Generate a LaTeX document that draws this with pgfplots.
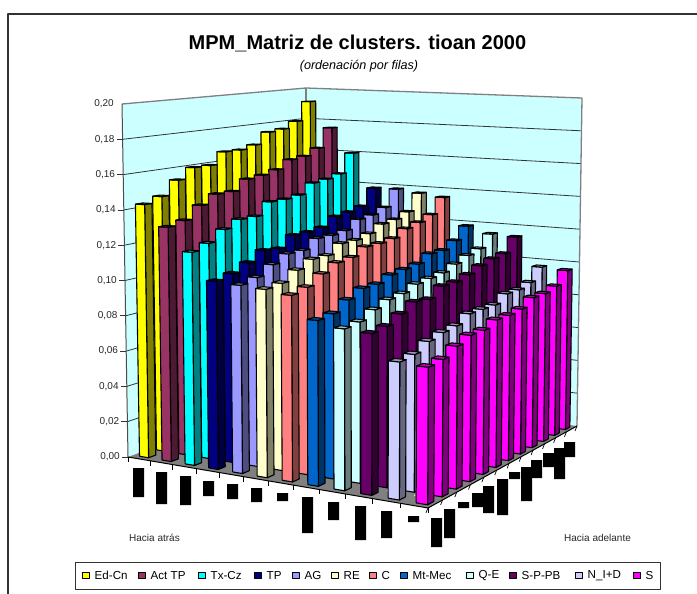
\documentclass[border=0pt]{standalone}
\usepackage{fontspec}
\setmainfont{Liberation Sans}
\usepackage{pgfplots}
\usepackage{pgfplotstable}
\pgfplotsset{compat=1.18}
\definecolor{c0}{HTML}{FFFF00}\definecolor{d0}{HTML}{808000}
\definecolor{c1}{HTML}{993366}\definecolor{d1}{HTML}{4D1A33}
\definecolor{c2}{HTML}{00FFFF}\definecolor{d2}{HTML}{008080}
\definecolor{c3}{HTML}{000080}\definecolor{d3}{HTML}{000040}
\definecolor{c4}{HTML}{9999FF}\definecolor{d4}{HTML}{4D4D80}
\definecolor{c5}{HTML}{FFFFCC}\definecolor{d5}{HTML}{808066}
\definecolor{c6}{HTML}{FF8080}\definecolor{d6}{HTML}{804040}
\definecolor{c7}{HTML}{0066CC}\definecolor{d7}{HTML}{003366}
\definecolor{c8}{HTML}{CCFFFF}\definecolor{d8}{HTML}{668080}
\definecolor{c9}{HTML}{660066}\definecolor{d9}{HTML}{330033}
\definecolor{c10}{HTML}{CCCCFF}\definecolor{d10}{HTML}{666680}
\definecolor{c11}{HTML}{FF00FF}\definecolor{d11}{HTML}{800080}
\pgfplotstableread[header=false]{
0.143 0.146 0.154 0.160 0.160 0.167 0.167 0.169 0.176 0.177 0.181 0.193
0.131 0.133 0.140 0.145 0.145 0.151 0.152 0.154 0.159 0.160 0.164 0.176
0.118 0.121 0.127 0.131 0.131 0.138 0.138 0.139 0.145 0.146 0.148 0.160
0.103 0.105 0.109 0.114 0.113 0.119 0.119 0.120 0.125 0.126 0.128 0.138
0.102 0.104 0.109 0.113 0.113 0.118 0.118 0.119 0.124 0.125 0.128 0.138
0.101 0.102 0.107 0.111 0.111 0.116 0.116 0.118 0.122 0.123 0.126 0.136
0.099 0.101 0.106 0.110 0.111 0.115 0.115 0.116 0.120 0.122 0.125 0.134
0.087 0.088 0.093 0.097 0.097 0.100 0.101 0.102 0.106 0.106 0.110 0.117
0.084 0.085 0.089 0.092 0.093 0.096 0.097 0.098 0.101 0.104 0.106 0.113
0.083 0.084 0.088 0.092 0.091 0.096 0.096 0.098 0.101 0.103 0.104 0.112
0.070 0.071 0.075 0.077 0.078 0.082 0.082 0.082 0.086 0.086 0.088 0.095
0.069 0.070 0.074 0.077 0.077 0.080 0.080 0.081 0.085 0.085 0.087 0.094
}\tbl
% projection of (series a, category b, height z as value) on the picture
\newcommand\prj[3]{%
  \pgfmathsetmacro\pw{1-0.12104*#1+0.17356*#2}%
  \pgfmathsetmacro\fx{(248.2*#1+231.1*#2+128)/\pw}%
  \pgfmathsetmacro\fy{(-10.5*#1+1.86*#2+457)/\pw}%
  \pgfmathsetmacro\hh{#3/0.2*353/\pw}%
  \pgfmathsetmacro\rx{\fx+(\fx-365)/13900*\hh}%
  \pgfmathsetmacro\ry{\fy-\hh}%
  \edef\pout{(\rx,\ry)}%
}
\newcommand\lgd[3]{%
  \node[draw=black,line width=1pt,fill=#1,minimum size=6.5pt,inner sep=0pt,anchor=west] at (axis cs:#2,575.5) {};
  \node[anchor=west,inner sep=0pt,font=\fontsize{11.6}{13}\selectfont] at (axis cs:#2+12.5,575.5) {#3};
}
\begin{document}
\begin{tikzpicture}
\path[use as bounding box] (0,0) rectangle (697pt,594pt);
\begin{axis}[at={(0,0)},anchor=south west,width=697pt,height=594pt,scale only axis,
  xmin=0,xmax=697,ymin=0,ymax=594,y dir=reverse,hide axis,clip=true,line join=round]
% chart frame
\addplot[draw=black!80,line width=1.8pt] coordinates {(8,594)(8,14)(697,14)};
% walls
\addplot[fill=c8,draw=none] coordinates {(128,457)(122,104)(306,88)(306,391)(128,457)};
\addplot[fill=c8,draw=none] coordinates {(306,391)(306,88)(582,98)(577,426)(306,391)};
% grid
\foreach \k in {1,...,9}{
  \pgfmathsetmacro\t{\k/10}
  \pgfmathsetmacro\lx{128-6*\t}\pgfmathsetmacro\ly{457-353*\t}
  \pgfmathsetmacro\my{391-303*\t}
  \pgfmathsetmacro\qx{577+5*\t}\pgfmathsetmacro\qy{426-328*\t}
  \edef\tmp{\noexpand\addplot[draw=black!80,line width=0.8pt] coordinates {(\lx,\ly)(306,\my)(\qx,\qy)};}\tmp
}
\addplot[draw=gray,line width=1.3pt] coordinates {(122,104)(306,88)(582,98)(577,426)};
\addplot[draw=gray,line width=1.3pt] coordinates {(306,88)(306,391)};
\addplot[draw=black!70,line width=1pt] coordinates {(122,104)(128,457)};
% floor
\addplot[fill=gray,draw=none] coordinates {(128,457)(428,508)(577,426)(306,391)(128,457)};
\addplot[draw=black,line width=1pt] coordinates {(128,457)(428,508)(577,426)};
% ticks on the floor edges and on the value axis
\foreach \n in {0,...,12}{
  \pgfmathsetmacro\u{\n/12}
  \prj{\u}{0}{0}\edef\pa{\pout}\pgfmathsetmacro\ya{\ry+5}\edef\pb{(\rx,\ya)}
  \edef\tmp{\noexpand\addplot[draw=black,line width=0.7pt] coordinates {\pa\pb};}\tmp
  \prj{1}{\u}{0}\edef\pa{\pout}\pgfmathsetmacro\ya{\ry+5}\pgfmathsetmacro\xa{\rx-2}\edef\pb{(\xa,\ya)}
  \edef\tmp{\noexpand\addplot[draw=black,line width=0.7pt] coordinates {\pa\pb};}\tmp
}
\foreach \k in {0,...,9}{
  \pgfmathsetmacro\t{\k/10}
  \pgfmathsetmacro\lx{128-6*\t}\pgfmathsetmacro\ly{457-353*\t}\pgfmathsetmacro\lz{\lx-6}
  \edef\tmp{\noexpand\addplot[draw=black!80,line width=0.8pt] coordinates {(\lx,\ly)(\lz,\ly)};}\tmp
}
% white dots of the floor
\foreach \sj in {1,...,11}{\foreach \si in {1,...,11}{
  \pgfmathsetmacro\aa{\si/12}\pgfmathsetmacro\bb{\sj/12}
  \prj{\aa}{\bb}{0}
  \pgfmathsetmacro\xm{\rx-0.7}\pgfmathsetmacro\xp{\rx+0.7}\pgfmathsetmacro\ym{\ry-0.7}\pgfmathsetmacro\yp{\ry+0.7}
  \edef\tmp{\noexpand\addplot[fill=black!12,draw=none] coordinates {(\xm,\ym)(\xp,\ym)(\xp,\yp)(\xm,\yp)(\xm,\ym)};}\tmp
}}
% bars, from the far ones to the near ones
\foreach \si in {0,...,11}{
  \pgfmathsetmacro\azero{(\si*1.012+0.295)/12}\pgfmathsetmacro\aone{(\si*1.012+0.705)/12}
  \foreach \sj in {11,10,...,0}{
    \pgfmathsetmacro\bzero{(\sj+0.29)/12}\pgfmathsetmacro\bone{(\sj+0.71)/12}
    \pgfplotstablegetelem{\si}{[index]\sj}\of\tbl
    \edef\val{\pgfplotsretval}
    \prj{\azero}{\bzero}{0}\edef\Aa{\pout}\prj{\aone}{\bzero}{0}\edef\Ba{\pout}\prj{\aone}{\bone}{0}\edef\Ca{\pout}
    \prj{\azero}{\bzero}{\val}\edef\Az{\pout}\prj{\aone}{\bzero}{\val}\edef\Bz{\pout}
    \prj{\aone}{\bone}{\val}\edef\Cz{\pout}\prj{\azero}{\bone}{\val}\edef\Dz{\pout}
    \edef\tmp{\noexpand\addplot[fill=d\si,draw=black,line width=1.1pt] coordinates {\Ba\Ca\Cz\Bz\Ba};
      \noexpand\addplot[fill=c\si,draw=black,line width=1.1pt] coordinates {\Aa\Ba\Bz\Az\Aa};
      \noexpand\addplot[fill=c\si!75!black,draw=black,line width=1.1pt] coordinates {\Az\Bz\Cz\Dz\Az};}\tmp
  }
}
% the black blocks under the floor (unreadable tick labels)
\foreach \xa/\xb/\ya/\yb in {133/144/468/497,156/167/472/504,180/191/476/505,203/214/481/496,227/238/484/499,251/262/488/502,277/288/493/501,302/313/497/533,328/339/502/520,355/366/506/540,381/392/511/538,408/419/516/522,431/442/518/547,444/455/509/538,458/469/502/508,472/483/493/507,483/494/486/513,497/508/479/515,509/520/472/479,521/532/467/501,531/542/460/478,543/554/453/467,554/565/448/479,564/575/442/457}{
  \edef\tmp{\noexpand\addplot[fill=black,draw=none] coordinates {(\xa,\ya)(\xb,\ya)(\xb,\yb)(\xa,\yb)(\xa,\ya)};}\tmp
}
% value labels
\foreach \k/\lab in {0/{0,00},1/{0,02},2/{0,04},3/{0,06},4/{0,08},5/{0,10},6/{0,12},7/{0,14},8/{0,16},9/{0,18},10/{0,20}}{
  \pgfmathsetmacro\t{\k/10}\pgfmathsetmacro\ly{457-353*\t}\pgfmathsetmacro\lx{120-6*\t}
  \edef\tmp{\noexpand\node[anchor=east,inner sep=0pt,text=black!85,font=\noexpand\fontsize{10}{12}\noexpand\selectfont] at (axis cs:\lx,\ly) {\lab};}\tmp
}
% titles
\node[font=\fontsize{20}{22}\selectfont\bfseries] at (axis cs:357.5,43.5) {MPM\_Matriz de clusters. tioan 2000};
\node[font=\fontsize{12.6}{14}\selectfont\itshape] at (axis cs:359,66.5) {(ordenación por filas)};
\node[anchor=west,inner sep=0pt,text=black!85,font=\fontsize{10}{12}\selectfont] at (axis cs:129,538) {Hacia atrás};
\node[anchor=west,inner sep=0pt,text=black!85,font=\fontsize{10}{12}\selectfont] at (axis cs:564,538) {Hacia adelante};
% legend
\draw[draw=black!80,line width=1pt,fill=white] (axis cs:75,562) rectangle (axis cs:660,589);
\lgd{c0}{82}{Ed-Cn}
\lgd{c1}{138}{Act TP}
\lgd{c2}{198}{Tx-Cz}
\lgd{c3}{254}{TP}
\lgd{c4}{292}{AG}
\lgd{c5}{331}{RE}
\lgd{c6}{369}{C}
\lgd{c7}{400}{Mt-Mec}
\lgd{c8}{466}{Q-E}
\lgd{c9}{509}{S-P-PB}
\lgd{c10}{575}{N\_I+D}
\lgd{c11}{633}{S}
\end{axis}
\end{tikzpicture}
\end{document}
